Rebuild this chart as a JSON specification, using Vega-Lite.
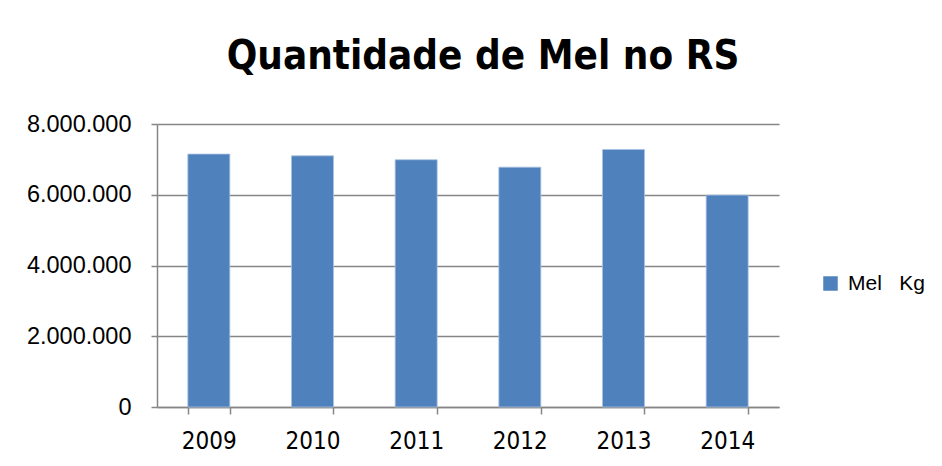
{
  "$schema": "https://vega.github.io/schema/vega-lite/v6.json",
  "autosize": "none",
  "width": 622,
  "height": 283,
  "padding": {"left": 157, "top": 124, "right": 163, "bottom": 59},
  "background": "white",
  "config": {
    "locale": {"number": {"decimal": ",", "thousands": ".", "grouping": [3], "currency": ["R$", ""]}},
    "view": {"stroke": null}
  },
  "title": {
    "text": "Quantidade de Mel no RS",
    "font": "DejaVu Sans Condensed",
    "fontWeight": "bold",
    "fontSize": 40,
    "color": "#000000",
    "anchor": "middle",
    "frame": "group",
    "dx": 15,
    "baseline": "alphabetic",
    "offset": 3
  },
  "data": {
    "values": [
      {"ano": "2009", "kg": 7150000, "serie": "Mel\u00a0\u00a0\u00a0Kg"},
      {"ano": "2010", "kg": 7100000, "serie": "Mel\u00a0\u00a0\u00a0Kg"},
      {"ano": "2011", "kg": 6990000, "serie": "Mel\u00a0\u00a0\u00a0Kg"},
      {"ano": "2012", "kg": 6780000, "serie": "Mel\u00a0\u00a0\u00a0Kg"},
      {"ano": "2013", "kg": 7280000, "serie": "Mel\u00a0\u00a0\u00a0Kg"},
      {"ano": "2014", "kg": 5990000, "serie": "Mel\u00a0\u00a0\u00a0Kg"}
    ]
  },
  "mark": {"type": "bar", "stroke": "#a9c2e2", "strokeWidth": 0.8},
  "encoding": {
    "x": {
      "field": "ano",
      "type": "nominal",
      "title": null,
      "scale": {"paddingInner": 0.595, "paddingOuter": 0.2975},
      "axis": {
        "labelAngle": 0,
        "labelFont": "DejaVu Sans Condensed",
        "labelFontSize": 24,
        "labelColor": "#000000",
        "labelPadding": 15,
        "domainColor": "#868686",
        "domainWidth": 1.5,
        "tickColor": "#868686",
        "tickWidth": 1.5,
        "tickSize": 7,
        "tickBand": "extent",
        "grid": false
      }
    },
    "y": {
      "field": "kg",
      "type": "quantitative",
      "title": null,
      "scale": {"domain": [0, 8000000]},
      "axis": {
        "values": [0, 2000000, 4000000, 6000000, 8000000],
        "format": ",d",
        "labelFont": "Liberation Sans",
        "labelFontSize": 23.5,
        "labelColor": "#000000",
        "labelPadding": 20,
        "domainColor": "#868686",
        "domainWidth": 1.5,
        "tickColor": "#868686",
        "tickWidth": 1.5,
        "tickSize": 6,
        "grid": true,
        "gridColor": "#868686",
        "gridWidth": 1.5,
        "gridOpacity": 1
      }
    },
    "color": {
      "field": "serie",
      "type": "nominal",
      "scale": {"range": ["#4F81BD"]},
      "legend": {
        "title": null,
        "orient": "none",
        "legendX": 663,
        "legendY": 149,
        "symbolType": "square",
        "symbolSize": 210,
        "symbolStrokeWidth": 0,
        "labelFont": "Liberation Sans",
        "labelFontSize": 21,
        "labelColor": "#000000",
        "labelOffset": 7,
        "labelLimit": 200
      }
    }
  }
}
